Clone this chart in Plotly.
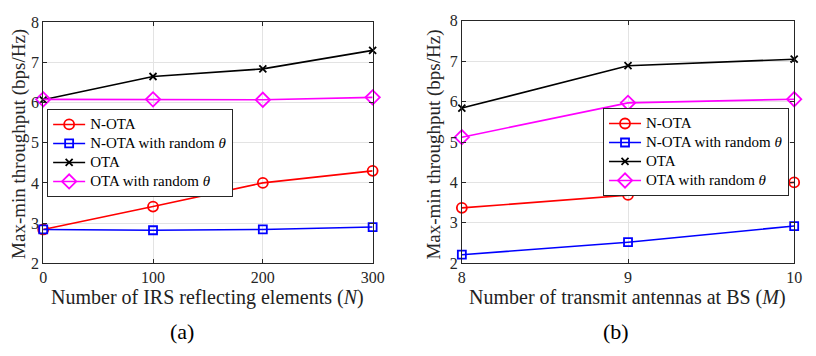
import plotly.graph_objects as go

# Data (a)
n_irs = [0, 100, 200, 300]
a_notA = [2.84, 3.41, 4.00, 4.30]
a_nota_rand = [2.84, 2.82, 2.84, 2.90]
a_ota = [6.07, 6.65, 6.84, 7.30]
a_ota_rand = [6.08, 6.08, 6.07, 6.13]

# Data (b)
m_ant = [8, 9, 10]
b_nota = [3.37, 3.69, 4.00]
b_nota_rand = [2.21, 2.52, 2.92]
b_ota = [5.84, 6.89, 7.05]
b_ota_rand = [5.12, 5.97, 6.06]

labels = ["N-OTA", "N-OTA with random <i>θ</i>", "OTA", "OTA with random <i>θ</i>"]
names = ['<span style="font-size:15px">%s</span>' % s for s in labels]
colors = ["#ff0000", "#0000ff", "#000000", "#ff00ff"]
symbols = ["circle-open", "square-open", "x-thin-open", "diamond-open"]
msizes = [10, 8, 7, 11]

SERIF = "Liberation Serif"

fig = go.Figure()

def add_series(xs, ys_list, xa, ya, legend):
    for i, ys in enumerate(ys_list):
        fig.add_trace(go.Scatter(
            x=xs, y=ys, name=names[i], mode="lines+markers",
            line=dict(color=colors[i], width=1.6),
            marker=dict(symbol=symbols[i], size=msizes[i], color=colors[i],
                        line=dict(width=1.8, color=colors[i])),
            xaxis=xa, yaxis=ya, legend=legend, cliponaxis=False,
        ))

add_series(n_irs, [a_notA, a_nota_rand, a_ota, a_ota_rand], "x", "y", "legend")
add_series(m_ant, [b_nota, b_nota_rand, b_ota, b_ota_rand], "x2", "y2", "legend2")

axis_common = dict(
    showline=True, linecolor="#262626", linewidth=1, mirror="ticks",
    ticks="inside", ticklen=4, tickcolor="#262626",
    showgrid=True, gridcolor="#e3e3e3", gridwidth=1,
    zeroline=False,
    tickfont=dict(family=SERIF, size=16, color="#262626"),
)

leg_common = dict(xanchor="left", yanchor="top",
                  bgcolor="white", bordercolor="#262626", borderwidth=1,
                  font=dict(family=SERIF, size=12, color="#000000"),
                  itemwidth=32, tracegroupgap=0)

fig.update_layout(
    width=816, height=356,
    margin=dict(l=0, r=0, t=0, b=0),
    paper_bgcolor="white", plot_bgcolor="white",
    showlegend=True,
    xaxis=dict(domain=[40/816, 376/816], range=[0, 300], tickvals=[0, 100, 200, 300],
               anchor="y", **axis_common),
    yaxis=dict(domain=[1-268/356, 1-15/356], range=[2, 8], dtick=1, anchor="x",
               **axis_common),
    xaxis2=dict(domain=[467/816, 806/816], range=[8, 10], tickvals=[8, 9, 10],
                anchor="y2", **axis_common),
    yaxis2=dict(domain=[1-268/356, 1-13.5/356], range=[2, 8], dtick=1, anchor="x2",
                **axis_common),
    legend=dict(x=44/816, y=1-106/356, **leg_common),
    legend2=dict(x=611/816, y=1-105/356, **leg_common),
)

ann_font = dict(family=SERIF, size=20, color="#222222")
annotations = [
    dict(text="Max-min throughput (bps/Hz)", x=15/816, y=1-143/356, textangle=-90,
         font=dict(family=SERIF, size=19, color="#262626")),
    dict(text="Max-min throughput (bps/Hz)", x=439/816, y=1-143/356, textangle=-90,
         font=dict(family=SERIF, size=19, color="#262626")),
    dict(text="Number of IRS reflecting elements (<i>N</i>)", x=208/816, y=1-304/356,
         font=ann_font),
    dict(text="Number of transmit antennas at BS (<i>M</i>)", x=636/816, y=1-304/356,
         font=ann_font),
    dict(text="(a)", x=182/816, y=1-340/356, font=dict(family=SERIF, size=22, color="#000")),
    dict(text="(b)", x=624/816, y=1-340/356, font=dict(family=SERIF, size=22, color="#000")),
]
for a in annotations:
    a.update(xref="paper", yref="paper", showarrow=False, xanchor="center", yanchor="middle")
fig.update_layout(annotations=annotations)

fig.write_html("out.html")
